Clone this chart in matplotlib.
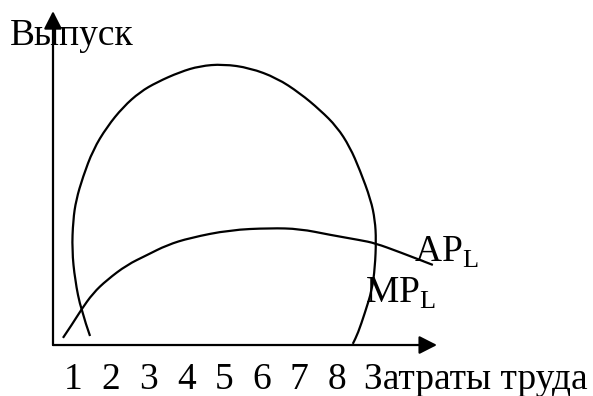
import matplotlib
matplotlib.use('Agg')
from matplotlib import pyplot as plt
from matplotlib.path import Path
from matplotlib.patches import PathPatch

# ---------------------------------
# DATA: labour input (x) vs output (y)
# ---------------------------------
labour_ticks = [1, 2, 3, 4, 5, 6, 7, 8]

# marginal product curve MP_L (loop-shaped line)
mp_x = [1.44, 1.20, 1.04, 0.96, 0.99, 1.07, 1.25, 1.52, 1.89, 2.32, 2.77, 3.22, 3.83, 4.36, 4.98,
        5.69, 6.41, 7.02, 7.56, 8.01, 8.35, 8.62, 8.91, 9.02, 9.05, 9.02, 8.94, 8.75, 8.57, 8.43]
mp_y = [0.24, 0.93, 1.73, 2.53, 3.32, 3.86, 4.47, 5.19, 5.80, 6.33, 6.73, 6.99, 7.26, 7.42, 7.47,
        7.37, 7.10, 6.70, 6.25, 5.80, 5.27, 4.65, 3.86, 3.32, 2.79, 2.07, 1.46, 0.85, 0.32, 0.03]

# average product curve AP_L
ap_x = [0.72, 0.99, 1.20, 1.52, 1.89, 2.42, 2.95, 3.49, 4.10, 5.16, 6.23, 7.02, 7.82, 8.62, 9.02, 9.68, 10.56]
ap_y = [0.19, 0.59, 0.93, 1.38, 1.73, 2.13, 2.39, 2.66, 2.85, 3.06, 3.11, 3.09, 2.93, 2.79, 2.71, 2.47, 2.13]


def smooth_path(xs, ys):
    # quadratic bezier through midpoints, read points used as control points
    verts = [(xs[0], ys[0])]
    codes = [Path.MOVETO]
    for i in range(1, len(xs) - 1):
        verts += [(xs[i], ys[i]), ((xs[i] + xs[i + 1]) / 2, (ys[i] + ys[i + 1]) / 2)]
        codes += [Path.CURVE3, Path.CURVE3]
    verts.append((xs[-1], ys[-1]))
    codes.append(Path.LINETO)
    return Path(verts, codes)


# fonts
plt.rcParams['font.family'] = ['Liberation Serif', 'DejaVu Serif']
plt.rcParams['mathtext.fontset'] = 'custom'
plt.rcParams['mathtext.rm'] = 'Liberation Serif'
fs = 27

fig = plt.figure(figsize=(5.93, 3.96), dpi=100)
ax = fig.add_axes([0, 0, 1, 1])
ax.set_xlim(-0.955, 14.82)
ax.set_ylim(-1.356, 9.176)
ax.axis('off')

# axes with arrows
x0, y0 = 0.455, 0.0
arrow = dict(arrowstyle='-|>,head_length=1.08,head_width=0.55', mutation_scale=10,
             lw=1.6, color='black', shrinkA=0, shrinkB=0)
ax.annotate('', xy=(10.67, y0), xytext=(x0, y0), arrowprops=arrow)
ax.annotate('', xy=(x0, 8.88), xytext=(x0, y0), arrowprops=arrow)

# curves
for xs, ys in [(mp_x, mp_y), (ap_x, ap_y)]:
    ax.add_patch(PathPatch(smooth_path(xs, ys), facecolor='none', edgecolor='black', lw=1.6))

# labels
ax.text(-0.69, 7.98, 'Выпуск', fontsize=fs, va='baseline', ha='left')
ax.text(10.06, 2.21, r'AP$_{\mathrm{L}}$', fontsize=fs, va='baseline', ha='left')
ax.text(8.75, 1.12, r'MP$_{\mathrm{L}}$', fontsize=fs, va='baseline', ha='left')
for t in labour_ticks:
    ax.text(t, -1.16, str(t), fontsize=fs, va='baseline', ha='center')
ax.text(8.73, -1.16, 'Затраты труда', fontsize=fs, va='baseline', ha='left')

fig.savefig('out.png', dpi=100)
